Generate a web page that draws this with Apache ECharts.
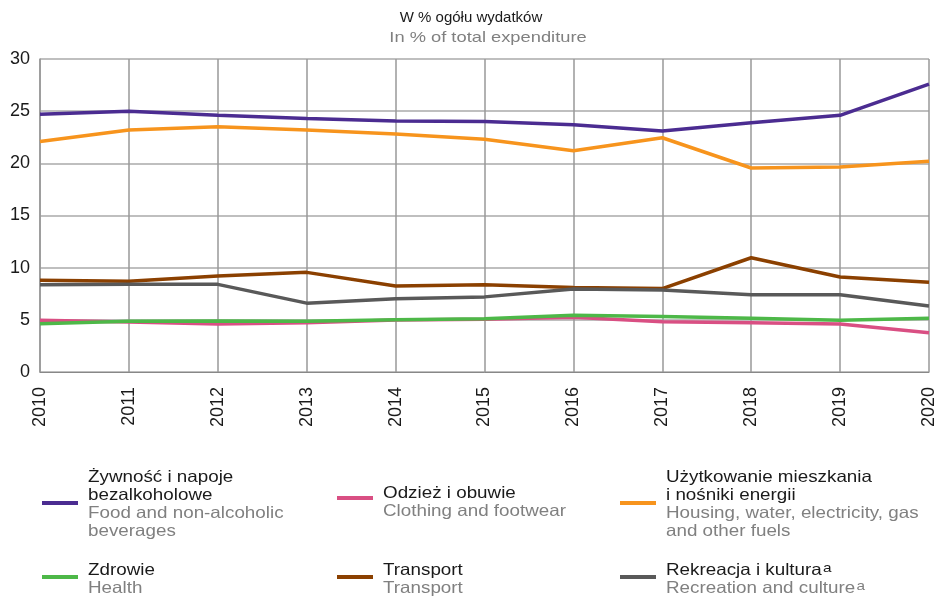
<!DOCTYPE html>
<html><head><meta charset="utf-8">
<script src="https://cdn.jsdelivr.net/npm/echarts@6/dist/echarts.min.js"></script>
<style>html,body{margin:0;padding:0;background:#fff}#c{width:938px;height:596px}</style>
</head><body><div id="c"></div>
<script>
const years = ['2010','2011','2012','2013','2014','2015','2016','2017','2018','2019','2020'];
const food = [24.7, 25.0, 24.6, 24.3, 24.05, 24.0, 23.7, 23.1, 23.9, 24.6, 27.6];
const clothing = [4.95, 4.8, 4.6, 4.73, 4.98, 5.05, 5.24, 4.82, 4.73, 4.6, 3.77];
const housing = [22.1, 23.2, 23.5, 23.2, 22.8, 22.3, 21.2, 22.45, 19.55, 19.65, 20.2];
const health = [4.63, 4.86, 4.9, 4.86, 5.0, 5.1, 5.43, 5.33, 5.14, 4.95, 5.14];
const transport = [8.8, 8.7, 9.2, 9.55, 8.24, 8.37, 8.1, 8.0, 10.95, 9.1, 8.6];
const recreation = [8.37, 8.4, 8.4, 6.6, 7.03, 7.2, 7.95, 7.86, 7.4, 7.4, 6.33];
const yTicks = [0, 5, 10, 15, 20, 25, 30];

const colors = {food:'#4B2C91', clothing:'#D94F83', housing:'#F7941D', health:'#4DB848', transport:'#8B4000', recreation:'#595959'};
const FONT = 'Liberation Sans, Arial, sans-serif';

function mk(name, data, color){
  return {name, type:'line', data, symbol:'none', lineStyle:{width:3.5, color}, itemStyle:{color}, z:3, animation:false};
}

const legendItems = [
  {x:42, ly:503, ty:468, color:colors.food, text:'{b|Żywność i napoje}\n{b|bezalkoholowe}\n{g|Food and non-alcoholic}\n{g|beverages}'},
  {x:337, ly:498, ty:484, color:colors.clothing, text:'{b|Odzież i obuwie}\n{g|Clothing and footwear}'},
  {x:620, ly:503, ty:468, color:colors.housing, text:'{b|Użytkowanie mieszkania}\n{b|i nośniki energii}\n{g|Housing, water, electricity, gas}\n{g|and other fuels}'},
  {x:42, ly:577, ty:561, color:colors.health, text:'{b|Zdrowie}\n{g|Health}'},
  {x:337, ly:577, ty:561, color:colors.transport, text:'{b|Transport}\n{g|Transport}'},
  {x:620, ly:577, ty:561, color:colors.recreation, text:'{b|Rekreacja i kultura}{sup|a}\n{g|Recreation and culture}{gs|a}'}
];
const rich = {
  b:{fontSize:16.5, fontFamily:FONT, fill:'#1a1a1a', lineHeight:18},
  g:{fontSize:16.5, fontFamily:FONT, fill:'#808080', lineHeight:18},
  sup:{fontSize:13.5, fontFamily:FONT, fill:'#1a1a1a', lineHeight:12, verticalAlign:'top', padding:[0,0,0,1]},
  gs:{fontSize:13.5, fontFamily:FONT, fill:'#808080', lineHeight:12, verticalAlign:'top', padding:[0,0,0,1]}
};
const graphics = [];
legendItems.forEach(it=>{
  graphics.push({type:'line', shape:{x1:it.x, y1:it.ly, x2:it.x+36, y2:it.ly}, style:{stroke:it.color, lineWidth:4}});
  graphics.push({type:'text', x:it.x+46, y:it.ty, scaleX:1.14, style:{text:it.text, x:0, y:0, verticalAlign:'top', rich}});
});
graphics.push({type:'text', x:488, y:38, scaleX:1.22, style:{text:'In % of total expenditure', x:0, y:0, align:'center', verticalAlign:'middle', fontSize:15, fontFamily:FONT, fill:'#808080'}});
graphics.push({type:'text', x:471, y:18, style:{text:'W % ogółu wydatków', x:0, y:0, align:'center', verticalAlign:'middle', fontSize:15, fontFamily:FONT, fill:'#1a1a1a'}});

const chart = echarts.init(document.getElementById('c'));
chart.setOption({
  animation:false,
  grid:{left:40, right:9, top:59, bottom:224, containLabel:false},
  xAxis:{type:'category', data:years, boundaryGap:false,
    axisLine:{lineStyle:{color:'#888', width:1}}, axisTick:{show:false},
    axisLabel:{rotate:90, fontSize:18, color:'#1a1a1a', fontFamily:FONT, margin:15},
    splitLine:{show:true, lineStyle:{color:'#999', width:1.5}}},
  yAxis:{type:'value', min:0, max:30, interval:5,
    axisLine:{show:true, lineStyle:{color:'#999', width:1.5}}, axisTick:{show:false},
    axisLabel:{fontSize:18, color:'#1a1a1a', fontFamily:FONT, margin:10},
    splitLine:{lineStyle:{color:'#aaa', width:1.5}}},
  series:[
    mk('Żywność', food, colors.food),
    mk('Odzież', clothing, colors.clothing),
    mk('Użytkowanie', housing, colors.housing),
    mk('Zdrowie', health, colors.health),
    mk('Transport', transport, colors.transport),
    mk('Rekreacja', recreation, colors.recreation)
  ],
  graphic:graphics
});
</script></body></html>
